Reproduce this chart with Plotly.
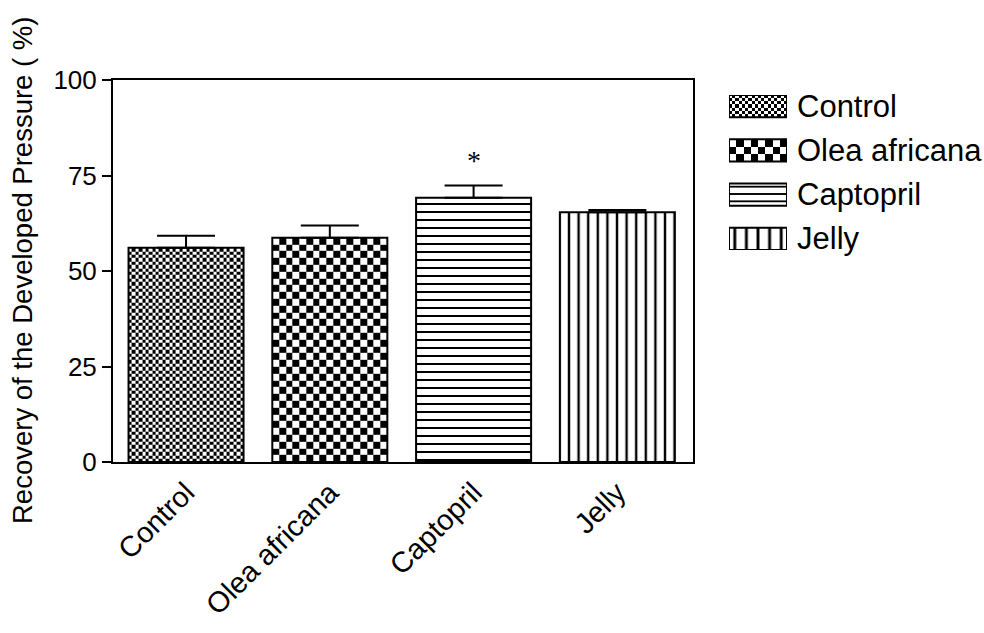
import numpy as np
import plotly.graph_objects as go

# ---- data -------------------------------------------------------------
categories = ["Control", "Olea africana", "Captopril", "Jelly"]
recovery = [56.1, 58.7, 69.2, 65.4]          # mean recovery (%)
sem = [3.1, 3.2, 3.2, 0.6]                   # upper error (%)
significance = ["", "", "*", ""]
y_ticks = [0, 25, 50, 75, 100]

# ---- geometry / styling ----------------------------------------------
W, H = 984, 633
PX0, PX1, PY0, PY1 = 113, 693, 80, 462       # plot box (pixels)
X_RANGE = [-0.508, 3.526]
Y_RANGE = [0, 100]
BAR_W = 0.8
FONT = "Liberation Sans, Arial, sans-serif"

px_per_x = (PX1 - PX0) / (X_RANGE[1] - X_RANGE[0])
px_per_y = (PY1 - PY0) / (Y_RANGE[1] - Y_RANGE[0])

# fill style per group: (kind, cell size in px)
fill_style = {
    "Control": ("checker", 3.4),
    "Olea africana": ("checker", 6.8),
    "Captopril": ("-", 8.0),
    "Jelly": ("|", 9.6),
}
# pattern cell sizes used in the legend swatches
legend_cell = {
    "Control": 3.2,
    "Olea africana": 7.4,
    "Captopril": 22 / 3,
    "Jelly": 58 / 5,
}


def checker(x0, x1, y0, y1, sx, sy):
    """Edges and z-values for a black/white checkerboard in data units."""
    nx = max(1, int(round((x1 - x0) / sx)))
    xe = np.linspace(x0, x1, nx + 1)
    ye = np.arange(y0, y1, sy)
    if y1 - ye[-1] < 0.3 * sy and len(ye) > 1:
        ye = ye[:-1]
    ye = np.append(ye, y1)
    ny = len(ye) - 1
    z = np.add.outer(np.arange(ny), np.arange(nx)) % 2
    return xe, ye, z


def checker_trace(xe, ye, z, xa, ya):
    return go.Heatmap(
        x=xe, y=ye, z=z, xaxis=xa, yaxis=ya,
        colorscale=[[0, "white"], [1, "black"]], zmin=0, zmax=1,
        showscale=False, hoverinfo="skip",
    )


def bar_marker(kind, cell):
    if kind == "checker":
        return dict(color="rgba(0,0,0,0)", line=dict(color="black", width=2))
    return dict(color="white", line=dict(color="black", width=2),
                pattern=dict(shape=kind, size=cell, solidity=0.25,
                             fgcolor="black", bgcolor="white"))


fig = go.Figure()

# checkerboard textures under the transparent bars
xpos = list(range(len(categories)))
for i, (cat, val) in enumerate(zip(categories, recovery)):
    kind, cell = fill_style[cat]
    if kind == "checker":
        xe, ye, z = checker(i - BAR_W / 2, i + BAR_W / 2, 0, val,
                            cell / px_per_x, cell / px_per_y)
        fig.add_trace(checker_trace(xe, ye, z, "x", "y"))

for i, (cat, val, err) in enumerate(zip(categories, recovery, sem)):
    kind, cell = fill_style[cat]
    fig.add_trace(go.Bar(
        x=[i], y=[val], width=BAR_W, name=cat,
        marker=bar_marker(kind, cell),
        error_y=dict(type="data", array=[err], arrayminus=[0],
                     symmetric=False, color="black", thickness=2, width=29),
        showlegend=False, hoverinfo="skip",
    ))

# ---- legend drawn in its own small axes --------------------------------
LEG_X0, LEG_X1, LEG_Y0, LEG_Y1 = 729, 787, 95, 250
leg_range_y = [-0.25, len(categories) - 0.75]
leg_px_x = (LEG_X1 - LEG_X0) / 1.0
leg_px_y = (LEG_Y1 - LEG_Y0) / (leg_range_y[1] - leg_range_y[0])
leg_pos = [len(categories) - 1 - i for i in range(len(categories))]

for cat, k in zip(categories, leg_pos):
    kind, _ = fill_style[cat]
    cell = legend_cell[cat]
    if kind == "checker":
        xe, ye, z = checker(0, 1, k - 0.25, k + 0.25,
                            cell / leg_px_x, cell / leg_px_y)
        fig.add_trace(checker_trace(xe, ye, z, "x2", "y2"))

for cat, k in zip(categories, leg_pos):
    kind, _ = fill_style[cat]
    fig.add_trace(go.Bar(
        orientation="h", x=[1], y=[k], width=0.5,
        xaxis="x2", yaxis="y2",
        marker=bar_marker(kind, legend_cell[cat]),
        showlegend=False, hoverinfo="skip",
    ))

annotations = [
    dict(text=cat, x=795 / W, xref="paper", y=k, yref="y2",
         xanchor="left", yanchor="middle", showarrow=False,
         font=dict(family=FONT, size=31, color="black"))
    for cat, k in zip(categories, leg_pos)
]

# significance marks above error bars
for i, (mark, val, err) in enumerate(zip(significance, recovery, sem)):
    if mark:
        annotations.append(dict(
            text=mark, x=i, y=val + err, xref="x", yref="y",
            xanchor="center", yanchor="bottom", yshift=7, showarrow=False,
            font=dict(family="Liberation Serif, Times New Roman, serif",
                      size=28, color="black")))

# y-axis title
annotations.append(dict(
    text="Recovery of the Developed Pressure ( %)",
    x=22 / W, y=1 - (PY0 + PY1) / 2 / H, xref="paper", yref="paper",
    xanchor="center", yanchor="middle", textangle=-90, showarrow=False,
    font=dict(family=FONT, size=27.5, color="black")))

axis_common = dict(showline=True, linecolor="black", linewidth=2, mirror=True,
                   showgrid=False, zeroline=False, automargin=False)

fig.update_layout(
    template="none",
    width=W, height=H,
    margin=dict(l=0, r=0, t=0, b=0),
    paper_bgcolor="white", plot_bgcolor="white",
    barmode="overlay",
    showlegend=False,
    xaxis=dict(domain=[PX0 / W, PX1 / W], range=X_RANGE,
               tickmode="array", tickvals=xpos, ticktext=categories,
               tickangle=-45, ticks="",
               tickfont=dict(family=FONT, size=29, color="black"),
               **axis_common),
    yaxis=dict(domain=[1 - PY1 / H, 1 - PY0 / H], range=Y_RANGE,
               tickmode="array", tickvals=y_ticks, ticks="outside",
               ticklen=9, tickwidth=2, tickcolor="black",
               tickfont=dict(family=FONT, size=26, color="black"),
               **axis_common),
    xaxis2=dict(domain=[LEG_X0 / W, LEG_X1 / W], range=[0, 1], anchor="y2",
                visible=False, fixedrange=True),
    yaxis2=dict(domain=[1 - LEG_Y1 / H, 1 - LEG_Y0 / H], range=leg_range_y,
                anchor="x2", visible=False, fixedrange=True),
    annotations=annotations,
)

fig.write_html("out.html")
